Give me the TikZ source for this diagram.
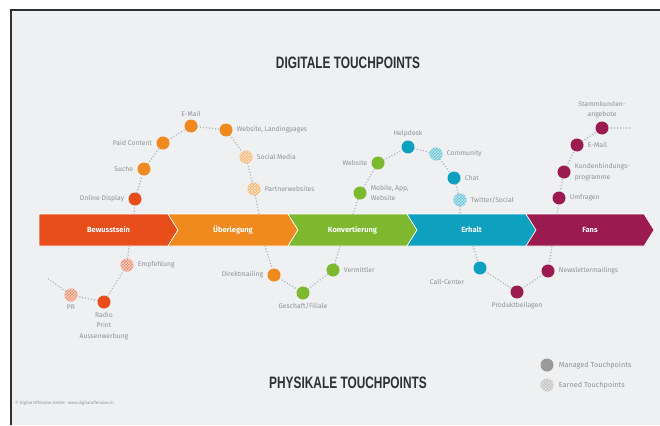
\documentclass[tikz,border=0pt]{standalone}
\usepackage{fontspec}
\setmainfont{Fira Sans}
\newfontfamily\headfont[FakeStretch=0.72]{Liberation Sans}
\usetikzlibrary{positioning,patterns}

\begin{document}
\begin{tikzpicture}[x=1pt, y=-1pt,
		dot/.style={circle, fill=#1, inner sep=0pt, minimum size=13pt},
		earned/.style={circle, fill=#1!65, inner sep=0pt, minimum size=13pt,
			postaction={pattern=crosshatch, pattern color=#1!25}},
		trail/.style={draw=trailgray, line width=1.6pt, line cap=round, dash pattern=on 0pt off 3pt},
		lbl/.style={text=labelgray, inner sep=1pt, font=\fontsize{6.8}{10.5}\selectfont},
		phase/.style={text=white, inner sep=0pt, font=\bfseries\fontsize{7.5}{9}\selectfont},
		head/.style={text=headgray, font=\headfont\bfseries\fontsize{16.5}{18}\selectfont}
		]
		
		% ==========================================
		% COLOURS
		% ==========================================
		\definecolor{bew}{HTML}{E84E1C}
		\definecolor{ueb}{HTML}{F08A1E}
		\definecolor{konv}{HTML}{7DB82E}
		\definecolor{erh}{HTML}{0EA0BF}
		\definecolor{fans}{HTML}{9B1A4F}
		\definecolor{bg}{HTML}{EEF0F2}
		\definecolor{trailgray}{HTML}{ADB5BF}
		\definecolor{labelgray}{HTML}{8E939A}
		\definecolor{headgray}{HTML}{2E3033}
		\definecolor{legendgray}{HTML}{9A9A9A}
		
		\useasboundingbox (0,0) rectangle (660,425);
		\fill[white] (0,0) rectangle (660,425);
		\fill[bg] (11,10) rectangle (660,425);
		\draw[headgray, line width=1.2pt] (660,10) -- (11,10) -- (11,425);
		
		% ==========================================
		% PHASE BAND (chevrons)
		% ==========================================
		\foreach \xa/\xb/\col/\nm/\txt [count=\i] in {
			39/168/bew/bewu/Bewusstsein,
			168/288/ueb/uebe/Überlegung,
			288/407/konv/konv/Konvertierung,
			407/526/erh/erha/Erhalt,
			526/644/fans/fans/Fans} {
			\ifnum\i=1 \def\d{0}\else\def\d{10}\fi
			\fill[\col, draw=white, line width=0.6pt] (\xa,214) -- (\xb,214) -- (\xb+10,230) -- (\xb,246)
				-- (\xa,246) -- (\xa+\d,230) -- cycle;
			\node[phase] (\nm) at ({(\xa+\xb)/2+5},230) {\txt};
		}
		
		% ==========================================
		% DIGITAL TOUCHPOINTS (above the band)
		% ==========================================
		\node[head] (digital) at (348,63) {DIGITALE TOUCHPOINTS};
		
		\node[dot=bew] (disp) at (135,199) {};
		\node[dot=ueb] (suche) at (144,169) {};
		\node[dot=ueb] (paid) at (163,143) {};
		\node[dot=ueb] (mail) at (191,126) {};
		\node[dot=ueb] (web) at (226,130) {};
		\node[earned=ueb] (social) at (246,157) {};
		\node[earned=ueb] (partner) at (254,189) {};
		
		\node[dot=konv] (mobile) at (360,193) {};
		\node[dot=konv] (site) at (378,163) {};
		\node[dot=erh] (help) at (408,147) {};
		\node[earned=erh] (comm) at (436,154) {};
		\node[dot=erh] (chat) at (454,178) {};
		\node[earned=erh] (twitter) at (460,200) {};
		
		\node[dot=fans] (umfr) at (559,198) {};
		\node[dot=fans] (kunden) at (564,172) {};
		\node[dot=fans] (fmail) at (577,145) {};
		\node[dot=fans] (stamm) at (602,128) {};
		
		% labels
		\node[lbl, left=3pt of disp] (disp-l) {Online Display};
		\node[lbl, left=3pt of suche] (suche-l) {Suche};
		\node[lbl, left=3pt of paid] (paid-l) {Paid Content};
		\node[lbl, above=2pt of mail] (mail-l) {E-Mail};
		\node[lbl, right=3pt of web] (web-l) {Website, Landingpages};
		\node[lbl, right=3pt of social] (social-l) {Social Media};
		\node[lbl, right=3pt of partner] (partner-l) {Partnerwebsites};
		\node[lbl, right=3pt of mobile, align=left] (mobile-l) {Mobile, App,\\Website};
		\node[lbl, left=3pt of site] (site-l) {Website};
		\node[lbl, above=2pt of help] (help-l) {Helpdesk};
		\node[lbl, right=3pt of comm] (comm-l) {Community};
		\node[lbl, right=3pt of chat] (chat-l) {Chat};
		\node[lbl, right=3pt of twitter] (twitter-l) {Twitter/Social};
		\node[lbl, right=3pt of umfr] (umfr-l) {Umfragen};
		\node[lbl, right=3pt of kunden, align=left] (kunden-l) {Kundenbindungs-\\programme};
		\node[lbl, right=3pt of fmail] (fmail-l) {E-Mail};
		\node[lbl, above=2pt of stamm, align=center] (stamm-l) {Stammkunden-\\angebote};
		
		% trail ends on the band
		\coordinate (t1) at (134,214);
		\coordinate (t2) at (259,214);
		\coordinate (t3) at (353,214);
		\coordinate (t4) at (460,214);
		\coordinate (t5) at (557,214);
		\coordinate (tail) at (632,128);
		
		\draw[trail] (t1) -- (disp) -- (suche) -- (paid) -- (mail) -- (web) -- (social) -- (partner) -- (t2);
		\draw[trail] (t3) -- (mobile) -- (site) -- (help) -- (comm) -- (chat) -- (twitter) -- (t4);
		\draw[trail] (t5) -- (umfr) -- (kunden) -- (fmail) -- (stamm) -- (tail);
		
		% ==========================================
		% PHYSICAL TOUCHPOINTS (below the band)
		% ==========================================
		\node[head] (physical) at (348,383) {PHYSIKALE TOUCHPOINTS};
		
		\node[earned=bew] (empf) at (127,265) {};
		\node[dot=bew] (radio) at (104,302) {};
		\node[earned=bew] (pr) at (71,295) {};
		\node[dot=ueb] (direkt) at (274,275) {};
		\node[dot=konv] (gesch) at (303,293) {};
		\node[dot=konv] (verm) at (333,270) {};
		\node[dot=erh] (call) at (480,268) {};
		\node[dot=fans] (prod) at (517,292) {};
		\node[dot=fans] (news) at (548,271) {};
		
		% labels
		\node[lbl, right=3pt of empf] (empf-l) {Empfehlung};
		\node[lbl, below=2pt of radio, align=center] (radio-l) {Radio\\Print\\Aussenwerbung};
		\node[lbl, below=2pt of pr] (pr-l) {PR};
		\node[lbl, left=3pt of direkt] (direkt-l) {Direktmailing};
		\node[lbl, below=2pt of gesch] (gesch-l) {Geschaft/Filiale};
		\node[lbl, right=3pt of verm] (verm-l) {Vermittler};
		\node[lbl] (call-l) at (447,282) {Call-Center};
		\node[lbl, below=2pt of prod] (prod-l) {Produktbeilagen};
		\node[lbl, right=3pt of news] (news-l) {Newslettermailings};
		
		% trail ends on the band
		\coordinate (b1) at (129,246);
		\coordinate (pr-end) at (47,278);
		\coordinate (b2) at (265,246);
		\coordinate (b3) at (340,246);
		\coordinate (b4) at (473,246);
		\coordinate (b5) at (552,246);
		
		\draw[trail] (b1) -- (empf) -- (radio) -- (pr) -- (pr-end);
		\draw[trail] (b2) -- (direkt) -- (gesch) -- (verm) -- (b3);
		\draw[trail] (b4) -- (call) -- (prod) -- (news) -- (b5);
		
		% ==========================================
		% LEGEND AND CREDIT
		% ==========================================
		\node[dot=legendgray] (managed) at (547,365) {};
		\node[earned=legendgray] (earn) at (547,385) {};
		\node[lbl, right=4pt of managed, font=\fontsize{7.3}{9}\selectfont] (managed-l) {Managed Touchpoints};
		\node[lbl, right=4pt of earn, font=\fontsize{7.3}{9}\selectfont] (earn-l) {Earned Touchpoints};
		
		\node[lbl, anchor=west, font=\fontsize{4.3}{5}\selectfont] (credit) at (14,403)
			{© Digital Offensive GmbH · www.digitaloffensive.ch};
		
	\end{tikzpicture}
\end{document}
